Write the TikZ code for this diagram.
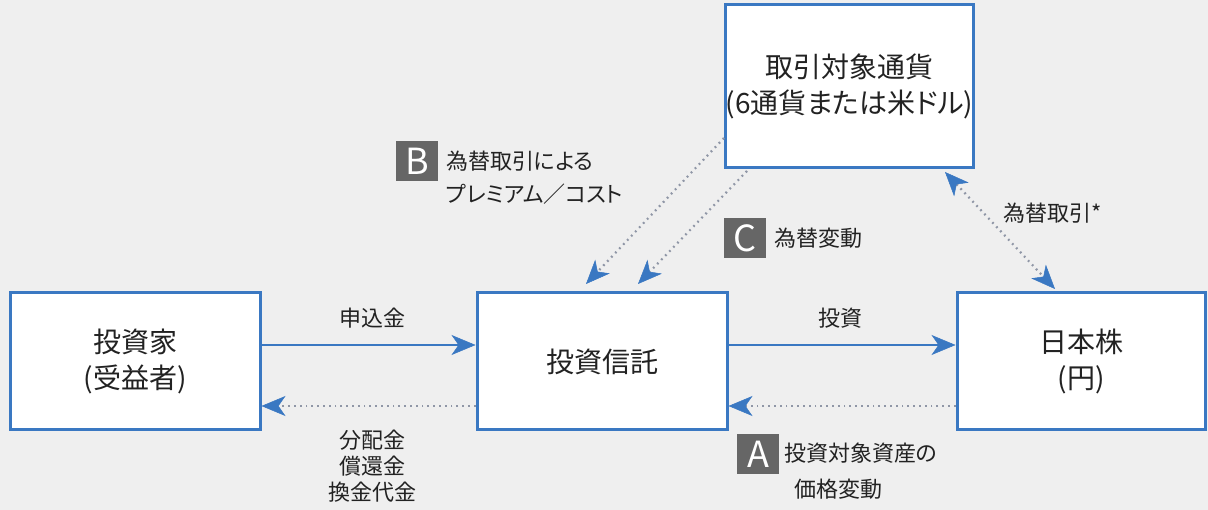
\documentclass[tikz,border=0pt]{standalone}
\usepackage{fontspec}
\setmainfont[RawFeature=+palt]{Noto Sans CJK JP}
\usetikzlibrary{arrows.meta}
\definecolor{bg}{HTML}{EFEFEF}
\definecolor{boxblue}{HTML}{3A78C2}
\definecolor{badgegray}{HTML}{666666}
\definecolor{dotgray}{HTML}{8F96A6}
\definecolor{txt}{HTML}{222222}
\tikzset{
  x=1pt,y=-1pt,
  entity/.style={draw=boxblue, line width=3pt, fill=white, inner sep=0pt, align=center, text=txt,
    font=\fontsize{28}{36}\selectfont},
  lbl/.style={inner sep=0pt, text=txt, font=\fontsize{22}{26}\selectfont, align=center},
  badge/.style={fill=badgegray, text=white, inner sep=0pt, minimum width=42pt, minimum height=40pt,
    font=\fontsize{36}{36}\selectfont},
  headtip/.tip={Stealth[length=24pt,width=20pt,inset=7pt,color=boxblue,line width=0.5pt]},
  flow/.style={draw=boxblue, line width=2pt, -headtip},
  back/.style={draw=dotgray, line width=2.2pt, dash pattern=on 1.8pt off 4pt, -headtip},
  both/.style={draw=dotgray, line width=2.2pt, dash pattern=on 1.8pt off 4pt, headtip-headtip},
}
\begin{document}
\begin{tikzpicture}
\fill[bg] (0,0) rectangle (1208,510);
\useasboundingbox (0,0) rectangle (1208,510);

\node[entity, minimum width=250pt, minimum height=137pt] (inv) at (135,361.5) {投資家\\(受益者)};
\node[entity, minimum width=250pt, minimum height=137pt] (trust) at (602,361.5) {投資信託};
\node[entity, minimum width=248pt, minimum height=137pt] (jp) at (1081,361.5) {日本株\\(円)};
\node[entity, minimum width=245pt, minimum height=163pt] (cur) at (849.5,86.5) {取引対象通貨\\(6通貨または米ドル)};

% horizontal flows
\draw[flow] (inv.east |- 0,345) -- (trust.west |- 0,345);
\draw[back] (trust.west |- 0,406) -- (inv.east |- 0,406);
\draw[flow] (trust.east |- 0,345) -- (jp.west |- 0,345);
\draw[back] (jp.west |- 0,406) -- (trust.east |- 0,406);

% currency arrows
\coordinate (b1s) at (724,138);
\coordinate (b1e) at (586,284);
\coordinate (c1s) at (747,171);
\coordinate (c1e) at (638,284);
\draw[back] (b1s) -- (b1e);
\draw[back] (c1s) -- (c1e);
\coordinate (fxs) at (945,172);
\coordinate (fxe) at (1055,289);
\draw[both] (fxs) -- (fxe);

% labels
\node[lbl] (l1) at (372,318) {申込金};
\node[lbl] (l2) at (372,466) {分配金\\償還金\\換金代金};
\node[lbl] (l3) at (840,318) {投資};
\node[lbl, anchor=west] (l4) at (1003,213) {為替取引*};

\node[badge] (ba) at (758,454) {A};
\node[lbl, anchor=west] (la1) at (784,453) {投資対象資産の};
\node[lbl] (la2) at (838,489) {価格変動};

\node[badge] (bb) at (417,161) {B};
\node[lbl, anchor=west] (lb1) at (446,161) {為替取引による};
\node[lbl, anchor=west] (lb2) at (446,194) {プレミアム／コスト};

\node[badge] (bc) at (745,238) {C};
\node[lbl, anchor=west] (lc) at (774,238) {為替変動};
\end{tikzpicture}
\end{document}
